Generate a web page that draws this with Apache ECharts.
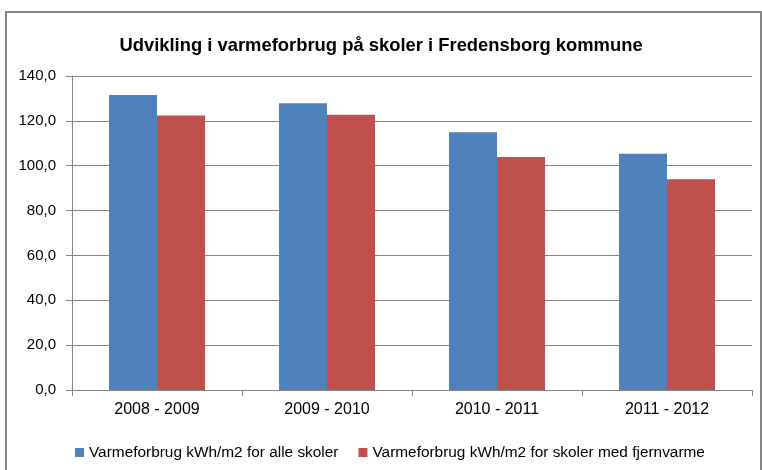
<!DOCTYPE html>
<html>
<head>
<meta charset="utf-8">
<script src="https://cdn.jsdelivr.net/npm/echarts@6/dist/echarts.min.js"></script>
<style>
  html, body { margin: 0; padding: 0; background: #fff; }
  #chart { width: 762px; height: 470px; }
</style>
</head>
<body>
<div id="chart"></div>
<script>
// data
const categories = ['2008 - 2009', '2009 - 2010', '2010 - 2011', '2011 - 2012'];
const alleSkoler = [131.5, 127.9, 114.9, 105.3];
const fjernvarme = [122.4, 122.7, 103.9, 94.0];
const seriesNames = ['Varmeforbrug kWh/m2 for alle skoler', 'Varmeforbrug kWh/m2 for skoler med fjernvarme'];

const font = '"Liberation Sans", Arial, sans-serif';
const myChart = echarts.init(document.getElementById('chart'));

const option = {
    animation: false,
    title: {
        text: 'Udvikling i varmeforbrug på skoler i Fredensborg kommune',
        left: 'center',
        top: 32,
        textStyle: { fontFamily: font, fontSize: 18.4, fontWeight: 'bold', color: '#000' }
    },
    legend: {
        bottom: 5,
        left: 70,
        itemWidth: 9,
        itemHeight: 9,
        itemGap: 20,
        icon: 'rect',
        textStyle: { fontFamily: font, fontSize: 15.4, color: '#000' },
        data: seriesNames
    },
    grid: { left: 72, right: 10, top: 76, bottom: 80 },
    xAxis: {
        type: 'category',
        data: categories,
        axisLine: { lineStyle: { color: '#868686' } },
        axisTick: { show: true, length: 6, lineStyle: { color: '#868686' } },
        axisLabel: { fontFamily: font, fontSize: 16, color: '#000', margin: 12 }
    },
    yAxis: {
        type: 'value',
        min: 0,
        max: 140,
        interval: 20,
        axisLine: { show: true, lineStyle: { color: '#868686' } },
        axisTick: { show: true, length: 6, lineStyle: { color: '#868686' } },
        splitLine: { lineStyle: { color: '#868686' } },
        axisLabel: {
            fontFamily: font, fontSize: 15, color: '#000', margin: 16,
            formatter: v => v.toFixed(1).replace('.', ',')
        }
    },
    series: [
        {
            name: seriesNames[0],
            type: 'bar',
            data: alleSkoler,
            barGap: '0%',
            barCategoryGap: '43.5%',
            itemStyle: { color: '#4F81BD' }
        },
        {
            name: seriesNames[1],
            type: 'bar',
            data: fjernvarme,
            barGap: '0%',
            barCategoryGap: '43.5%',
            itemStyle: { color: '#C0504D' }
        }
    ],
    graphic: [{
        type: 'rect',
        shape: { x: 6, y: 12, width: 755, height: 470 },
        style: { fill: 'none', stroke: '#868686', lineWidth: 2 },
        silent: true
    }]
};

myChart.setOption(option);
window.addEventListener('resize', () => {
    myChart.resize();
});
</script>
</body>
</html>
